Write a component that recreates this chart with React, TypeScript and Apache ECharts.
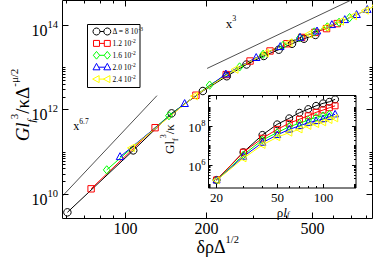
import React, { useEffect, useRef } from "react";
import * as echarts from "echarts";

const FONT = "'Liberation Serif', 'Times New Roman', serif";

// ---------- series meta ----------
const legendMantissa = ["Δ = 8 10", "1.2 10", "1.6 10", "2.0 10", "2.4 10"];
const legendExponent = ["-3", "-2", "-2", "-2", "-2"];
const colors = ["#000000", "#ff0000", "#00ff00", "#0000ff", "#ffff00"];

// ---------- main plot data (δρΔ^1/2 , G l_f^3 / κ Δ^-μ/2) ----------
const mainX_a = [60.3, 106.5, 148.3, 194.3, 238.9, 283.2, 328.8, 374.1, 419.6, 465.4, 513.5];
const mainY_a = [3.74e9, 1.1e11, 8.32e11, 2.82e12, 6.31e12, 1.2e13, 1.91e13, 2.69e13, 3.72e13, 4.9e13, 6.03e13];
const mainX_b = [74, 128.6, 183, 237.7, 292, 347, 401.5, 456, 511, 565.5, 620];
const mainY_b = [1.35e10, 3.8e11, 2.24e12, 6.92e12, 1.45e13, 2.51e13, 3.72e13, 5.25e13, 6.92e13, 8.51e13, 1.12e14];
const mainX_c = [84.7, 145, 206, 266.8, 327, 388, 448.6, 509, 569, 630, 690];
const mainY_c = [3.8e10, 7.33e11, 3.89e12, 1.05e13, 2.09e13, 3.39e13, 5.13e13, 7.08e13, 9.33e13, 1.2e14, 1.55e14];
const mainX_d = [95, 166, 237, 308, 379, 450, 521, 592, 662, 733, 804];
const mainY_d = [7.76e10, 1.41e12, 7.08e12, 1.74e13, 3.16e13, 5.25e13, 7.41e13, 1.05e14, 1.38e14, 1.82e14, 2.4e14];
const mainX_e = [105, 181, 257, 334, 410, 486, 563, 639, 715, 792, 868];
const mainY_e = [1.26e11, 2.14e12, 9.12e12, 2.24e13, 3.98e13, 6.31e13, 9.12e13, 1.26e14, 1.7e14, 2.29e14, 3.02e14];

// guide lines
const guide67X = [57.8, 130.7];
const guide67Y = [9.12e9, 2.19e12];
const guide3X = [201.6, 700];
const guide3Y = [9.68e12, 4.06e14];

// ---------- inset data (ρ l_f , G l_f^3 / κ) ----------
const insetX = [20, 30, 40, 50, 60, 70, 80, 90, 100, 110, 120];
const insetY_a = [1.66e5, 4.68e6, 3.72e7, 1.33e8, 2.75e8, 5.37e8, 8.32e8, 1.23e9, 1.66e9, 2.0e9, 2.69e9];
const insetY_b = [1.66e5, 4.68e6, 2.51e7, 7.24e7, 1.51e8, 2.45e8, 3.72e8, 5.62e8, 7.41e8, 9.77e8, 1.23e9];
const insetY_c = [1.58e5, 3.39e6, 2.04e7, 4.9e7, 1.0e8, 1.51e8, 2.24e8, 3.09e8, 3.72e8, 4.47e8];
const insetY_d = [1.58e5, 2.75e6, 1.48e7, 3.72e7, 7.24e7, 1.1e8, 1.62e8, 2.0e8, 2.51e8, 3.31e8, 4.47e8];
const insetY_e = [1.58e5, 2.24e6, 1.12e7, 2.82e7, 4.9e7, 7.24e7, 1.1e8, 1.38e8, 1.7e8, 2.24e8, 2.75e8];

// ---------- axes ----------
const mainXMin = 57.8, mainXMax = 841;
const mainYMin = 2.67e9, mainYMax = 3.95e14;
const insetXMin = 17.7, insetXMax = 164.6;
const insetYMin = 6.3e4, insetYMax = 4.26e9;

const mainXTickLabels = ["100", "200", "500"];
const mainXTickValues = [100, 200, 500];
const mainXMinorTicks = [60, 70, 80, 90, 300, 400, 600, 700, 800];
const mainYTickValues = [1e10, 1e12, 1e14];
const mainYTickExp = ["10", "12", "14"];
const mainYMinorTicks = [2e10, 3e10, 4e10, 5e10, 6e10, 7e10, 8e10, 9e10, 1e11, 2e12, 3e12, 4e12, 5e12, 6e12, 7e12, 8e12, 9e12, 1e13];

const insetXTickLabels = ["20", "50", "100"];
const insetXTickValues = [20, 50, 100];
const insetXMinorTicks = [30, 40, 60, 70, 80, 90];
const insetYTickValues = [1e6, 1e8];
const insetYTickExp = ["6", "8"];
const insetYMinorTicks = [
  7e4, 8e4, 9e4, 1e5, 2e5, 3e5, 4e5, 5e5, 6e5, 7e5, 8e5, 9e5,
  2e6, 3e6, 4e6, 5e6, 6e6, 7e6, 8e6, 9e6, 1e7, 2e7, 3e7, 4e7, 5e7, 6e7, 7e7, 8e7, 9e7,
  2e8, 3e8, 4e8, 5e8, 6e8, 7e8, 8e8, 9e8, 1e9, 2e9, 3e9, 4e9,
];

type Tick = { v: number; major: boolean; label?: string };

function px5(v: number) {
  return Math.round(v - 0.5) + 0.5;
}

function markerShape(i: number, cx: number, cy: number, s: number, fill: string) {
  const st = { fill, stroke: colors[i], lineWidth: 1 };
  const r = s / 2;
  if (i === 0) return { type: "circle", shape: { cx, cy, r }, style: st };
  if (i === 1) return { type: "rect", shape: { x: cx - r * 0.85, y: cy - r * 0.85, width: r * 1.7, height: r * 1.7 }, style: st };
  if (i === 2)
    return { type: "polygon", shape: { points: [[cx, cy - r * 1.1], [cx + r * 0.9, cy], [cx, cy + r * 1.1], [cx - r * 0.9, cy]] }, style: st };
  if (i === 3)
    return { type: "polygon", shape: { points: [[cx, cy - r * 1.1], [cx + r, cy + r * 0.75], [cx - r, cy + r * 0.75]] }, style: st };
  return { type: "polygon", shape: { points: [[cx - r * 1.1, cy], [cx + r * 0.75, cy - r], [cx + r * 0.75, cy + r]] }, style: st };
}

function xTickSeries(ticks: Tick[], idx: number, yRef: number, majLen: number, minLen: number, labelDy: number, fontSize: number, z: number) {
  return {
    type: "custom",
    xAxisIndex: idx,
    yAxisIndex: idx,
    clip: false,
    silent: true,
    z,
    data: ticks.map((t) => [t.v, yRef]),
    renderItem: (params: any, api: any) => {
      const t = ticks[params.dataIndex];
      const cs = params.coordSys;
      const px = px5(api.coord([t.v, yRef])[0]);
      const len = t.major ? majLen : minLen;
      const bottom = cs.y + cs.height;
      const children: any[] = [
        { type: "line", shape: { x1: px, y1: bottom, x2: px, y2: bottom - len }, style: { stroke: "#000", lineWidth: 1 } },
        { type: "line", shape: { x1: px, y1: cs.y, x2: px, y2: cs.y + len }, style: { stroke: "#000", lineWidth: 1 } },
      ];
      if (t.label) {
        children.push({
          type: "text",
          x: px,
          y: bottom + labelDy,
          style: { text: t.label, fontSize, lineHeight: fontSize, fontFamily: FONT, fill: "#000", align: "center", verticalAlign: "middle" },
        });
      }
      return { type: "group", children };
    },
  };
}

function yTickSeries(ticks: Tick[], idx: number, xRef: number, majLen: number, minLen: number, labelDx: number, labelDy: number, baseSize: number, supSize: number, baseLH: number, supLH: number, z: number) {
  return {
    type: "custom",
    xAxisIndex: idx,
    yAxisIndex: idx,
    clip: false,
    silent: true,
    z,
    data: ticks.map((t) => [xRef, t.v]),
    renderItem: (params: any, api: any) => {
      const t = ticks[params.dataIndex];
      const cs = params.coordSys;
      const py = px5(api.coord([xRef, t.v])[1]);
      const len = t.major ? majLen : minLen;
      const right = cs.x + cs.width;
      const children: any[] = [
        { type: "line", shape: { x1: cs.x, y1: py, x2: cs.x + len, y2: py }, style: { stroke: "#000", lineWidth: 1 } },
        { type: "line", shape: { x1: right, y1: py, x2: right - len, y2: py }, style: { stroke: "#000", lineWidth: 1 } },
      ];
      if (t.label) {
        children.push({
          type: "text",
          x: cs.x - labelDx,
          y: py + labelDy,
          style: {
            text: "{b|10}{s|" + t.label + "}",
            fontFamily: FONT,
            fill: "#000",
            align: "right",
            verticalAlign: "middle",
            rich: {
              b: { fontSize: baseSize, fontFamily: FONT, lineHeight: baseLH, verticalAlign: "middle", fill: "#000" },
              s: { fontSize: supSize, fontFamily: FONT, lineHeight: supLH, verticalAlign: "top", fill: "#000" },
            },
          },
        });
      }
      return { type: "group", children };
    },
  };
}

function lineSeries(xs: number[], ys: number[], i: number, idx: number, z: number) {
  return {
    type: "line",
    xAxisIndex: idx,
    yAxisIndex: idx,
    data: xs.map((x, k) => [x, ys[k]]),
    symbol: "none",
    showSymbol: false,
    lineStyle: { color: colors[i], width: 1 },
    itemStyle: { color: colors[i] },
    z,
    silent: true,
  };
}

function markerSeries(xs: number[], ys: number[], i: number, idx: number, size: number, z: number) {
  return {
    type: "custom",
    xAxisIndex: idx,
    yAxisIndex: idx,
    clip: true,
    silent: true,
    z,
    data: xs.map((x, k) => [x, ys[k]]),
    renderItem: (params: any, api: any) => {
      const p = api.coord([api.value(0), api.value(1)]);
      return markerShape(i, p[0], p[1], size, "none");
    },
  };
}

function legendGraphic() {
  const children: any[] = [
    { type: "rect", shape: { x: 87.5, y: 24.5, width: 52.5, height: 63 }, style: { fill: "#fff", stroke: "#000", lineWidth: 1 } },
  ];
  for (let i = 0; i < 5; i++) {
    const cy = 31.5 + i * 11.9;
    const c = colors[i];
    const x1 = 96.5, x2 = 107.3;
    children.push({ type: "line", shape: { x1, y1: cy, x2, y2: cy }, style: { stroke: c, lineWidth: 1 } });
    for (const cx of [x1, x2]) children.push(markerShape(i, cx, cy, 7, "#fff"));
    children.push({
      type: "text",
      x: 112.5,
      y: cy,
      style: {
        text: "{n|" + legendMantissa[i] + "}{s|" + legendExponent[i] + "}",
        fill: "#000",
        align: "left",
        verticalAlign: "middle",
        rich: {
          n: { fontSize: 7.5, fontFamily: FONT, lineHeight: 11, verticalAlign: "middle", fill: "#000" },
          s: { fontSize: 5.5, fontFamily: FONT, lineHeight: 5, verticalAlign: "top", fill: "#000" },
        },
      },
    });
  }
  return { type: "group", children };
}

export default function App() {
  const ref = useRef<HTMLDivElement>(null);
  useEffect(() => {
    if (!ref.current) return;
    const chart = echarts.init(ref.current, null, { renderer: "svg" });

    const hiddenAxis = {
      axisLine: { show: false },
      axisTick: { show: false },
      axisLabel: { show: false },
      splitLine: { show: false },
    };

    const mainXTicks: Tick[] = [
      ...mainXTickValues.map((v, i) => ({ v, major: true, label: mainXTickLabels[i] })),
      ...mainXMinorTicks.map((v) => ({ v, major: false })),
    ];
    const mainYTicks: Tick[] = [
      ...mainYTickValues.map((v, i) => ({ v, major: true, label: mainYTickExp[i] })),
      ...mainYMinorTicks.map((v) => ({ v, major: false })),
    ];
    const insetXTicks: Tick[] = [
      ...insetXTickValues.map((v, i) => ({ v, major: true, label: insetXTickLabels[i] })),
      ...insetXMinorTicks.map((v) => ({ v, major: false })),
    ];
    const insetYTicks: Tick[] = [
      ...insetYTickValues.map((v, i) => ({ v, major: true, label: insetYTickExp[i] })),
      ...insetYMinorTicks.map((v) => ({ v, major: false })),
    ];

    const mains = [
      [mainX_a, mainY_a],
      [mainX_b, mainY_b],
      [mainX_c, mainY_c],
      [mainX_d, mainY_d],
      [mainX_e, mainY_e],
    ];
    const insets = [insetY_a, insetY_b, insetY_c, insetY_d, insetY_e];

    const option: any = {
      animation: false,
      backgroundColor: "#fff",
      grid: [
        { left: 62.5, top: 0.5, width: 310, height: 218, show: true, borderColor: "#000", borderWidth: 1, backgroundColor: "transparent", z: 0 },
        { left: 208.5, top: 95.5, width: 147.5, height: 92.5, show: true, borderColor: "#000", borderWidth: 1, backgroundColor: "#fff", z: 15 },
      ],
      xAxis: [
        { type: "log", gridIndex: 0, min: mainXMin, max: mainXMax, ...hiddenAxis },
        { type: "log", gridIndex: 1, min: insetXMin, max: insetXMax, ...hiddenAxis },
      ],
      yAxis: [
        { type: "log", gridIndex: 0, min: mainYMin, max: mainYMax, ...hiddenAxis },
        { type: "log", gridIndex: 1, min: insetYMin, max: insetYMax, ...hiddenAxis },
      ],
      series: [
        {
          type: "line",
          xAxisIndex: 0,
          yAxisIndex: 0,
          data: guide67X.map((x, k) => [x, guide67Y[k]]),
          symbol: "none",
          lineStyle: { color: "#222", width: 0.8 },
          silent: true,
          z: 3,
        },
        {
          type: "line",
          xAxisIndex: 0,
          yAxisIndex: 0,
          data: guide3X.map((x, k) => [x, guide3Y[k]]),
          symbol: "none",
          lineStyle: { color: "#222", width: 0.8 },
          silent: true,
          z: 3,
        },
        ...mains.map((m, i) => lineSeries(m[0], m[1], i, 0, 4 + i)),
        ...mains.map((m, i) => markerSeries(m[0], m[1], i, 0, 7.5, 9 + i)),
        ...insets.map((ys, i) => lineSeries(insetX.slice(0, ys.length), ys, i, 1, 16 + i)),
        ...insets.map((ys, i) => markerSeries(insetX.slice(0, ys.length), ys, i, 1, 7, 21 + i)),
        xTickSeries(mainXTicks, 0, 1e12, 6, 3, 10, 16, 14),
        yTickSeries(mainYTicks, 0, 200, 6, 3, 4.5, 5, 16, 10.5, 24, 8, 14),
        xTickSeries(insetXTicks, 1, 1e7, 4, 2, 9.5, 13, 27),
        yTickSeries(insetYTicks, 1, 50, 4, 2, 3, 1, 13, 8.5, 18, 7, 27),
      ],
      graphic: [
        legendGraphic(),
        {
          type: "text",
          x: 81,
          y: 126,
          style: {
            text: "{n|x}{s|6.7}",
            align: "center",
            verticalAlign: "middle",
            rich: {
              n: { fontSize: 12, fontFamily: FONT, lineHeight: 18, verticalAlign: "middle", fill: "#000" },
              s: { fontSize: 7.5, fontFamily: FONT, lineHeight: 7, verticalAlign: "top", fill: "#000" },
            },
          },
        },
        {
          type: "text",
          x: 231,
          y: 23,
          style: {
            text: "{n|x}{s|3}",
            align: "center",
            verticalAlign: "middle",
            rich: {
              n: { fontSize: 13, fontFamily: FONT, lineHeight: 18, verticalAlign: "middle", fill: "#000" },
              s: { fontSize: 8, fontFamily: FONT, lineHeight: 7, verticalAlign: "top", fill: "#000" },
            },
          },
        },
        {
          type: "text",
          x: 217.7,
          y: 246.5,
          style: {
            text: "{n|δρΔ}{s|1/2}",
            align: "center",
            verticalAlign: "middle",
            rich: {
              n: { fontSize: 18, fontFamily: FONT, lineHeight: 26, verticalAlign: "middle", fill: "#000" },
              s: { fontSize: 10.5, fontFamily: FONT, lineHeight: 8, verticalAlign: "top", fill: "#000" },
            },
          },
        },
        {
          type: "text",
          x: 22,
          y: 105,
          rotation: Math.PI / 2,
          style: {
            text: "{g|Gl}{b|f}{s|3}{n|/κΔ}{s2|-μ/2}",
            align: "center",
            verticalAlign: "middle",
            rich: {
              g: { fontSize: 19, fontFamily: FONT, fontStyle: "italic", lineHeight: 28, verticalAlign: "middle", fill: "#000" },
              b: { fontSize: 11, fontFamily: FONT, fontStyle: "italic", lineHeight: 18, verticalAlign: "bottom", fill: "#000" },
              s: { fontSize: 11, fontFamily: FONT, lineHeight: 12, verticalAlign: "top", fill: "#000" },
              n: { fontSize: 19, fontFamily: FONT, lineHeight: 28, verticalAlign: "middle", fill: "#000" },
              s2: { fontSize: 11, fontFamily: FONT, lineHeight: 10, verticalAlign: "top", fill: "#000" },
            },
          },
        },
        {
          type: "text",
          x: 283,
          y: 212,
          z: 30,
          style: {
            text: "{n|ρ}{i|l}{b|f}",
            align: "center",
            verticalAlign: "middle",
            rich: {
              n: { fontSize: 13, fontFamily: FONT, lineHeight: 13, verticalAlign: "middle", fill: "#000" },
              i: { fontSize: 13, fontFamily: FONT, fontStyle: "italic", lineHeight: 13, verticalAlign: "middle", fill: "#000" },
              b: { fontSize: 8, fontFamily: FONT, fontStyle: "italic", lineHeight: 8, verticalAlign: "bottom", fill: "#000" },
            },
          },
        },
        {
          type: "text",
          x: 169,
          y: 139,
          rotation: Math.PI / 2,
          z: 30,
          style: {
            text: "{n|Gl}{b|f}{s|3}{n|/κ}",
            align: "center",
            verticalAlign: "middle",
            rich: {
              n: { fontSize: 13, fontFamily: FONT, lineHeight: 20, verticalAlign: "middle", fill: "#000" },
              b: { fontSize: 8, fontFamily: FONT, lineHeight: 12, verticalAlign: "bottom", fill: "#000" },
              s: { fontSize: 8, fontFamily: FONT, lineHeight: 8, verticalAlign: "top", fill: "#000" },
            },
          },
        },
      ],
    };

    chart.setOption(option);
    return () => chart.dispose();
  }, []);

  return (
    <div
      ref={ref}
      style={{ position: "fixed", left: 0, top: 0, width: 374, height: 259, background: "#fff" }}
    />
  );
}
